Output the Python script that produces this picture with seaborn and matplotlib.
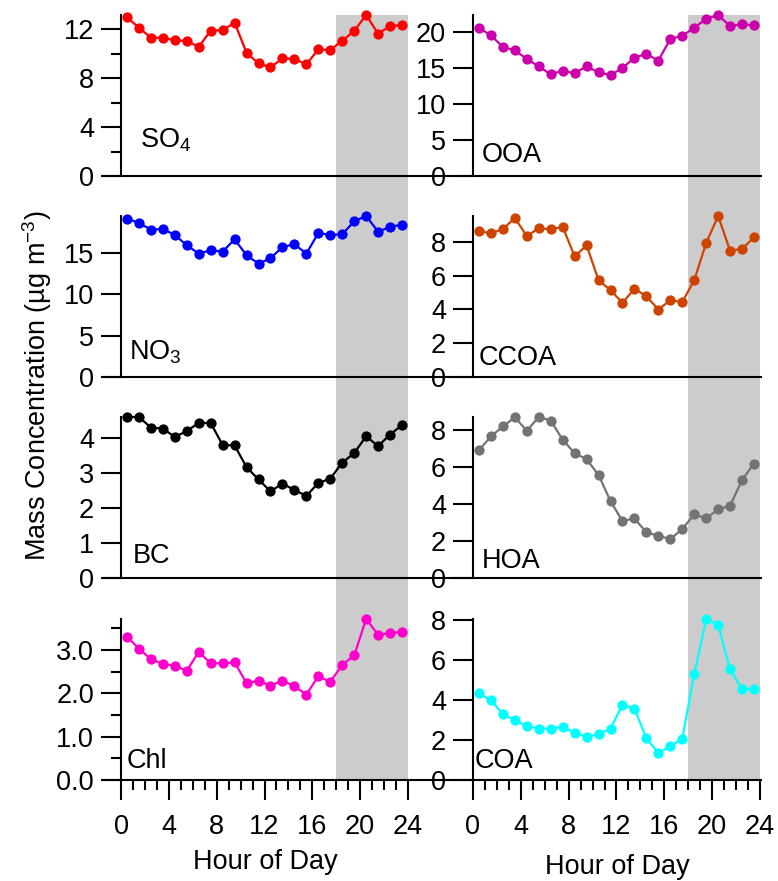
import matplotlib
matplotlib.use("Agg")
import matplotlib.pyplot as plt
import matplotlib.transforms as mtransforms
from matplotlib.patches import Rectangle
from matplotlib.lines import Line2D
from matplotlib.ticker import MultipleLocator, FormatStrFormatter
import seaborn as sns

# Hour-of-day bin centres
hours = [0.5, 1.5, 2.5, 3.5, 4.5, 5.5, 6.5, 7.5, 8.5, 9.5, 10.5, 11.5,
         12.5, 13.5, 14.5, 15.5, 16.5, 17.5, 18.5, 19.5, 20.5, 21.5, 22.5, 23.5]

# Diurnal mean mass concentrations (ug m-3)
so4 = [12.98, 12.13, 11.31, 11.31, 11.10, 11.04, 10.57, 11.89, 11.94, 12.54, 10.08, 9.21,
       8.88, 9.62, 9.57, 9.13, 10.36, 10.30, 11.07, 11.86, 13.17, 11.64, 12.27, 12.33]
no3 = [19.17, 18.65, 17.84, 17.92, 17.19, 15.94, 14.94, 15.34, 15.18, 16.67, 14.73, 13.73,
       14.37, 15.74, 16.07, 14.94, 17.43, 17.19, 17.28, 18.85, 19.49, 17.60, 18.16, 18.45]
bc = [4.59, 4.59, 4.29, 4.26, 4.02, 4.19, 4.42, 4.42, 3.79, 3.78, 3.16, 2.81,
      2.47, 2.69, 2.51, 2.34, 2.71, 2.83, 3.29, 3.56, 4.04, 3.76, 4.09, 4.36]
chl = [3.30, 3.03, 2.78, 2.68, 2.63, 2.52, 2.95, 2.69, 2.69, 2.71, 2.23, 2.29,
       2.17, 2.29, 2.16, 1.97, 2.39, 2.26, 2.65, 2.87, 3.71, 3.35, 3.38, 3.42]
ooa = [20.55, 19.48, 17.90, 17.43, 16.22, 15.20, 14.09, 14.60, 14.23, 15.20, 14.37, 13.99,
       14.97, 16.41, 16.92, 16.00, 19.01, 19.43, 20.55, 21.80, 22.32, 20.78, 21.06, 20.88]
ccoa = [8.65, 8.50, 8.76, 9.41, 8.34, 8.81, 8.74, 8.89, 7.14, 7.79, 5.73, 5.14,
        4.39, 5.22, 4.78, 3.99, 4.55, 4.43, 5.73, 7.94, 9.53, 7.47, 7.59, 8.26]
hoa = [6.90, 7.64, 8.18, 8.67, 7.95, 8.69, 8.50, 7.46, 6.74, 6.41, 5.56, 4.15,
       3.07, 3.22, 2.46, 2.28, 2.10, 2.64, 3.43, 3.22, 3.70, 3.90, 5.29, 6.18]
coa = [4.34, 4.00, 3.30, 3.00, 2.70, 2.58, 2.58, 2.66, 2.38, 2.16, 2.30, 2.58,
       3.77, 3.58, 2.09, 1.36, 1.68, 2.08, 5.29, 8.07, 7.77, 5.54, 4.54, 4.57]

hour_ticks = [0, 4, 8, 12, 16, 20, 24]
night_start, night_end = 18, 24

sns.set_theme(style="ticks")
plt.rcParams["font.family"] = ["Liberation Sans", "DejaVu Sans"]
plt.rcParams["mathtext.fontset"] = "custom"
plt.rcParams["mathtext.rm"] = "Liberation Sans"
plt.rcParams["mathtext.it"] = "Liberation Sans"
plt.rcParams["mathtext.default"] = "regular"
plt.rcParams["text.color"] = "black"
plt.rcParams["axes.labelcolor"] = "black"
plt.rcParams["xtick.color"] = "black"
plt.rcParams["ytick.color"] = "black"

W, H = 778, 881
FS = 19.5
fig = plt.figure(figsize=(W / 100, H / 100), dpi=100)

col_left = [121, 473]
col_width = 287
row_top = [15, 216, 417, 619]
row_height = 161

# (label, values, colour, column, row, major step, minor step, label format, label position)
panels = [
    ("SO$_4$", so4, "#ff0000", 0, 0, 4, 2, "%d", (140, 148)),
    ("NO$_3$", no3, "#0000ff", 0, 1, 5, None, "%d", (129, 360)),
    ("BC", bc, "#000000", 0, 2, 1, None, "%d", (133, 563)),
    ("Chl", chl, "#ff00cc", 0, 3, 1, 0.5, "%.1f", (127, 768)),
    ("OOA", ooa, "#cc00aa", 1, 0, 5, None, "%d", (482, 162)),
    ("CCOA", ccoa, "#cc4400", 1, 1, 2, None, "%d", (479, 365)),
    ("HOA", hoa, "#737373", 1, 2, 2, None, "%d", (482, 568)),
    ("COA", coa, "#00ffff", 1, 3, 2, None, "%d", (475, 768)),
]

axes = {}
for label, vals, color, col, row, major, minor, fmt, (tx, ty) in panels:
    rect = [col_left[col] / W, 1 - (row_top[row] + row_height) / H,
            col_width / W, row_height / H]
    ax = fig.add_axes(rect)
    ax.set_facecolor("none")
    sns.lineplot(x=hours, y=vals, ax=ax, color=color, marker="o",
                 markersize=7.4, markeredgewidth=0, linewidth=1.6, clip_on=False)
    ax.set_xlim(0, 24)
    ax.set_ylim(0, max(vals))
    for s in ["top", "right", "bottom"]:
        ax.spines[s].set_visible(False)
    ax.spines["left"].set_linewidth(1.5)
    ax.spines["left"].set_color("black")
    ax.yaxis.set_major_locator(MultipleLocator(major))
    ax.yaxis.set_major_formatter(FormatStrFormatter(fmt))
    if minor:
        ax.yaxis.set_minor_locator(MultipleLocator(minor))
    ax.tick_params(axis="y", which="major", length=14.4, width=1.5, direction="out",
                   labelsize=FS, pad=5, colors="black")
    ax.tick_params(axis="y", which="minor", length=7.2, width=1.5, direction="out",
                   colors="black")
    if row < 3:
        ax.tick_params(axis="x", which="both", bottom=False, labelbottom=False)
    else:
        ax.set_xticks(hour_ticks)
        ax.xaxis.set_minor_locator(MultipleLocator(1))
        ax.tick_params(axis="x", which="major", length=14.4, width=1.5, direction="out",
                       labelsize=FS, pad=10, colors="black")
        ax.tick_params(axis="x", which="minor", length=7.2, width=1.5, direction="out",
                       colors="black")
    ax.set_xlabel("")
    ax.set_ylabel("")
    fig.text(tx / W, 1 - ty / H, label, fontsize=FS, ha="left", va="baseline",
             color="black")
    axes[(col, row)] = ax

# Night-time shading spanning each column of panels
for col in (0, 1):
    ax = axes[(col, 3)]
    trans = mtransforms.blended_transform_factory(ax.transData, fig.transFigure)
    y0 = 1 - (row_top[3] + row_height) / H
    y1 = 1 - row_top[0] / H
    fig.add_artist(Rectangle((night_start, y0), night_end - night_start, y1 - y0,
                             transform=trans, facecolor="#cccccc", edgecolor="none",
                             zorder=-1))

# Zero baseline running across both columns of each row
for row in range(4):
    ax = axes[(0, row)]
    trans = mtransforms.blended_transform_factory(fig.transFigure, ax.transData)
    fig.add_artist(Line2D([102 / W, 762 / W], [0, 0], transform=trans,
                          color="black", linewidth=1.5, solid_capstyle="butt"))

fig.text(37 / W, 1 - 386 / H, "Mass Concentration (µg m$^{-3}$)", rotation=90,
         fontsize=FS, ha="center", va="center", color="black")
fig.text(265 / W, 1 - 862 / H, "Hour of Day", fontsize=FS, ha="center", va="center",
         color="black")
fig.text(617 / W, 1 - 867 / H, "Hour of Day", fontsize=FS, ha="center", va="center",
         color="black")

fig.savefig("out.png", dpi=100)
